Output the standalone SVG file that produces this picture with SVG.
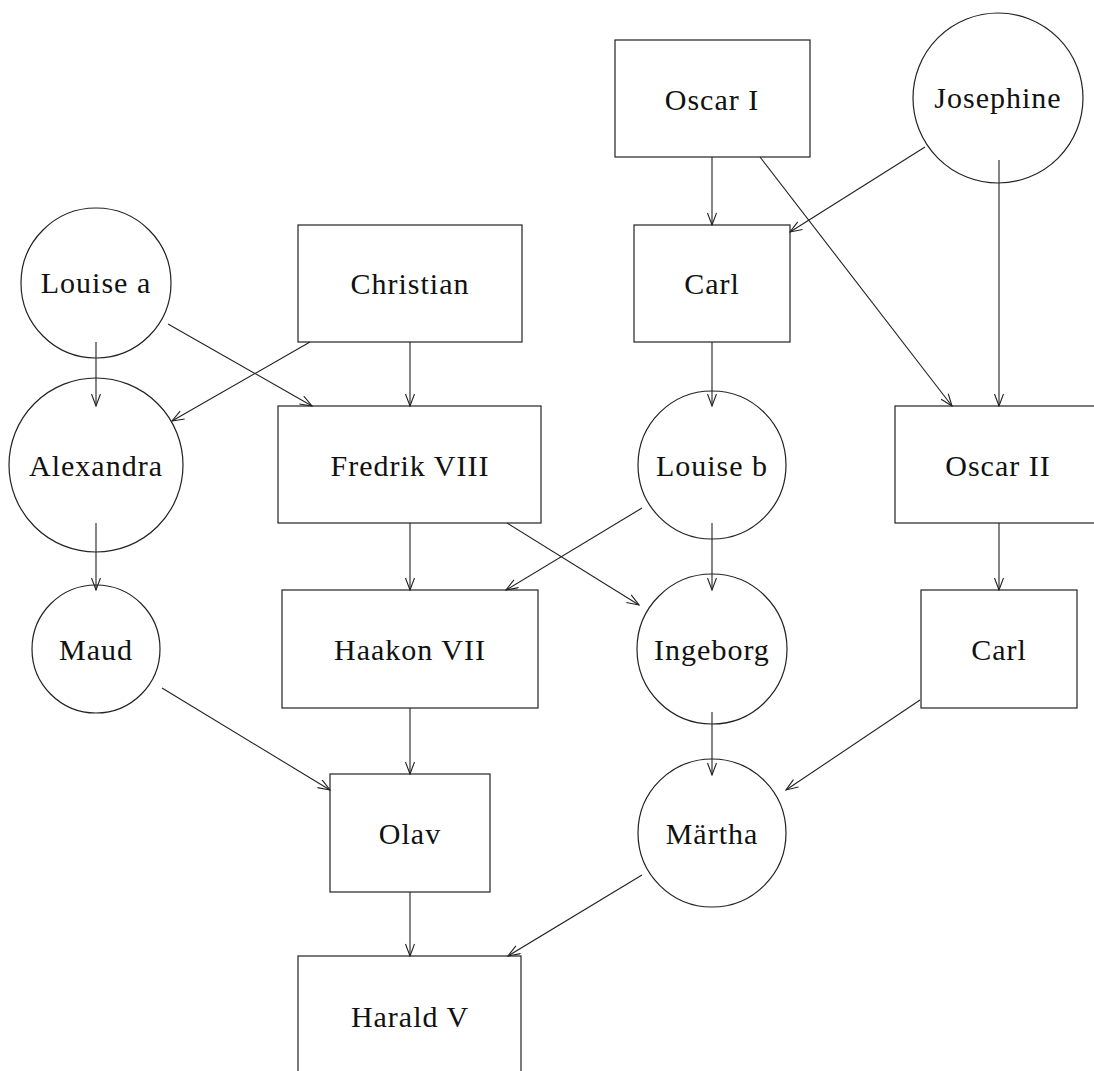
<svg xmlns="http://www.w3.org/2000/svg" width="1094" height="1071" viewBox="0 0 1094 1071">
<defs>
<style>
.n rect, .n circle { fill: #fff; stroke: #222; stroke-width: 1.2; }
.n text { font-family: "Liberation Serif", "DejaVu Serif", serif; font-size: 30px; letter-spacing: 1px; text-anchor: middle; fill: #111; }
#edges line { stroke: #222; stroke-width: 1.1; marker-end: url(#arr); }
</style>
<marker id="arr" markerUnits="userSpaceOnUse" markerWidth="14" markerHeight="12" refX="13" refY="5" orient="auto">
<path d="M1,0.5 L13,5 L1,9.5" fill="none" stroke="#222" stroke-width="1.1"/>
</marker>
</defs>
<rect width="1094" height="1071" fill="#fff"/>
<g id="nodes">
<g class="n" id="oscar1"><rect x="615" y="40" width="195" height="117"/><text x="712" y="110">Oscar I</text></g>
<g class="n" id="josephine"><circle cx="998" cy="98" r="85"/><text x="998" y="108">Josephine</text></g>
<g class="n" id="louisea"><circle cx="96" cy="283" r="75"/><text x="96" y="293">Louise a</text></g>
<g class="n" id="christian"><rect x="298" y="225" width="224" height="117"/><text x="410" y="294">Christian</text></g>
<g class="n" id="carl1"><rect x="634" y="225" width="156" height="117"/><text x="712" y="294">Carl</text></g>
<g class="n" id="alexandra"><circle cx="96" cy="465" r="87"/><text x="96" y="476">Alexandra</text></g>
<g class="n" id="fredrik"><rect x="278" y="406" width="263" height="117"/><text x="410" y="476">Fredrik VIII</text></g>
<g class="n" id="louiseb"><circle cx="712" cy="465" r="74"/><text x="712" y="476">Louise b</text></g>
<g class="n" id="oscar2"><rect x="895" y="406" width="210" height="117"/><text x="998" y="476">Oscar II</text></g>
<g class="n" id="maud"><circle cx="96" cy="649" r="64"/><text x="96" y="660">Maud</text></g>
<g class="n" id="haakon"><rect x="282" y="590" width="256" height="118"/><text x="410" y="660">Haakon VII</text></g>
<g class="n" id="ingeborg"><circle cx="712" cy="649" r="75"/><text x="712" y="660">Ingeborg</text></g>
<g class="n" id="carl2"><rect x="921" y="590" width="156" height="118"/><text x="999" y="660">Carl</text></g>
<g class="n" id="olav"><rect x="330" y="774" width="160" height="118"/><text x="410" y="844">Olav</text></g>
<g class="n" id="martha"><circle cx="712" cy="833" r="74"/><text x="712" y="844">Märtha</text></g>
<g class="n" id="harald"><rect x="298" y="956" width="223" height="130"/><text x="410" y="1027">Harald V</text></g>
</g>
<g id="edges">
<line x1="712" y1="157" x2="712" y2="225"/>
<line x1="760" y1="157" x2="952" y2="406"/>
<line x1="925" y1="147" x2="790" y2="232"/>
<line x1="999" y1="160" x2="999" y2="406"/>
<line x1="96" y1="342" x2="96" y2="406"/>
<line x1="168" y1="324" x2="312" y2="406"/>
<line x1="310" y1="342" x2="172" y2="421"/>
<line x1="410" y1="342" x2="410" y2="406"/>
<line x1="712" y1="342" x2="712" y2="406"/>
<line x1="410" y1="523" x2="410" y2="590"/>
<line x1="507" y1="523" x2="639" y2="605"/>
<line x1="642" y1="508" x2="506" y2="590"/>
<line x1="712" y1="523" x2="712" y2="590"/>
<line x1="999" y1="523" x2="999" y2="590"/>
<line x1="96" y1="523" x2="96" y2="590"/>
<line x1="162" y1="688" x2="330" y2="790"/>
<line x1="410" y1="708" x2="410" y2="774"/>
<line x1="712" y1="712" x2="712" y2="775"/>
<line x1="920" y1="700" x2="786" y2="790"/>
<line x1="410" y1="892" x2="410" y2="956"/>
<line x1="642" y1="875" x2="508" y2="956"/>
</g>
</svg>
